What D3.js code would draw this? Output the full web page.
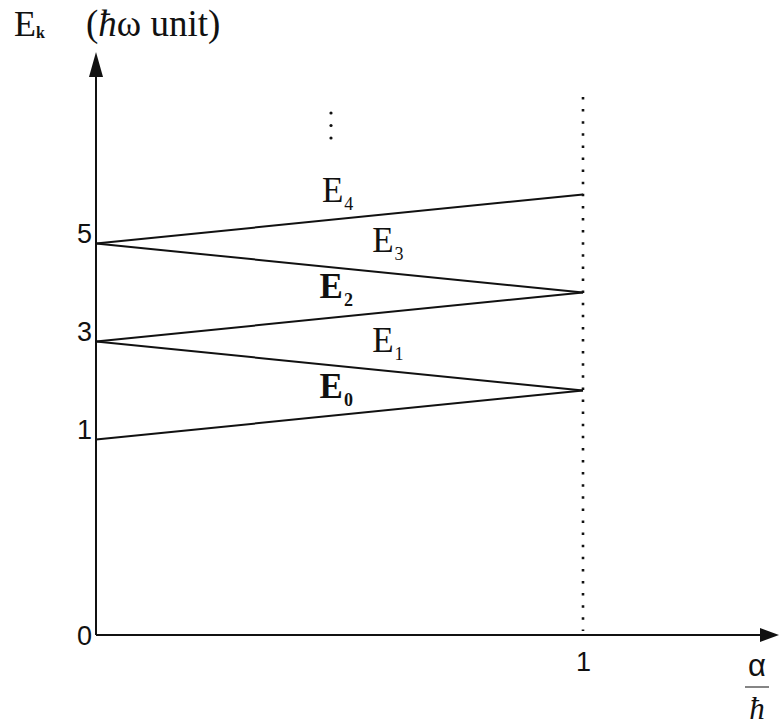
<!DOCTYPE html>
<html>
<head>
<meta charset="utf-8">
<script src="https://cdn.jsdelivr.net/npm/d3@7"></script>
<style>
  html, body { margin: 0; padding: 0; background: #fff; }
  svg { display: block; }
</style>
</head>
<body>
<svg id="chart" width="779" height="728"></svg>
<script>
// Energy levels E_k (in units of ħω) versus α/ħ, from α/ħ = 0 to 1
const levelNames = ["E0", "E1", "E2", "E3", "E4"];
const levelSub = ["0", "1", "2", "3", "4"];
const energyAtZero = [1, 3, 3, 5, 5];
const energyAtOne = [2, 2, 4, 4, 6];
const yTickValues = [0, 1, 3, 5];
const xTickValues = [1];

const svg = d3.select("#chart");

// Energy axis: broken between 0 and 1, linear from 1 upward
const x = d3.scaleLinear().domain([0, 1]).range([96, 583]);
const y = d3.scaleLinear().domain([0, 1, 5]).range([635, 439.5, 243.5]);

const serif = "'Liberation Serif', 'Times New Roman', serif";
const sans = "'Liberation Sans', Arial, sans-serif";

// Vertical dotted line at α/ħ = 1
svg.append("line")
  .attr("x1", x(1)).attr("x2", x(1))
  .attr("y1", 97).attr("y2", 631)
  .attr("stroke", "#111").attr("stroke-width", 2.6)
  .attr("stroke-dasharray", "2.5 9.6");

// Level lines
const levels = levelNames.map((n, i) => ({ name: n, sub: levelSub[i], e0: energyAtZero[i], e1: energyAtOne[i] }));
const line = d3.line().x(d => x(d[0])).y(d => y(d[1]));
svg.append("g").selectAll("path")
  .data(levels)
  .join("path")
  .attr("d", d => line([[0, d.e0], [1, d.e1]]))
  .attr("fill", "none")
  .attr("stroke", "#111")
  .attr("stroke-width", 2);

// Axes lines with arrow heads
const axisColor = "#111";
svg.append("line")
  .attr("x1", x(0)).attr("x2", x(0))
  .attr("y1", y(0)).attr("y2", 74)
  .attr("stroke", axisColor).attr("stroke-width", 2);
svg.append("path")
  .attr("d", `M${x(0)},52 L${x(0) - 7},77 L${x(0) + 7},77 Z`)
  .attr("fill", axisColor);
svg.append("line")
  .attr("x1", x(0)).attr("x2", 763)
  .attr("y1", y(0)).attr("y2", y(0))
  .attr("stroke", axisColor).attr("stroke-width", 2);
svg.append("path")
  .attr("d", `M779,${y(0)} L760,${y(0) - 7} L760,${y(0) + 7} Z`)
  .attr("fill", axisColor);

// Y tick labels (no tick marks)
const yAxis = d3.axisLeft(y).tickValues(yTickValues).tickSize(0).tickPadding(4).tickFormat(d3.format("d"));
const gy = svg.append("g").attr("transform", `translate(${x(0)},0)`).call(yAxis);
gy.select(".domain").remove();
gy.selectAll("text")
  .attr("font-family", sans).attr("font-size", 27).attr("fill", "#111")
  .attr("dy", d => d === 0 ? "0.36em" : "-0.02em");

// X tick labels
const xAxis = d3.axisBottom(x).tickValues(xTickValues).tickSize(0).tickPadding(17).tickFormat(d3.format("d"));
const gx = svg.append("g").attr("transform", `translate(0,${y(0)})`).call(xAxis);
gx.select(".domain").remove();
gx.selectAll("text")
  .attr("font-family", sans).attr("font-size", 27).attr("fill", "#111");

// Level labels E_k placed between the lines
const labelAt = {
  E4: [0.464, 5.84, false],
  E3: [0.567, 4.82, false],
  E2: [0.459, 3.88, true],
  E1: [0.567, 2.78, false],
  E0: [0.459, 1.84, true]
};
const lab = svg.append("g").selectAll("text")
  .data(levels)
  .join("text")
  .attr("x", d => x(labelAt[d.name][0]))
  .attr("y", d => y(labelAt[d.name][1]))
  .attr("font-family", serif)
  .attr("font-size", 35)
  .attr("font-weight", d => labelAt[d.name][2] ? "bold" : "normal")
  .attr("fill", "#111");
lab.append("tspan").text("E");
lab.append("tspan").attr("dx", 1).attr("dy", 8).attr("font-size", 18).text(d => d.sub);

// More levels above: vertical ellipsis
svg.append("g").selectAll("circle")
  .data([0, 1, 2])
  .join("circle")
  .attr("cx", 331)
  .attr("cy", d => 113 + d * 12.5)
  .attr("r", 1.6)
  .attr("fill", "#111");

// Y axis title: E_k (ħω unit)
const yt = svg.append("text")
  .attr("x", 14).attr("y", 36)
  .attr("font-family", serif).attr("font-size", 36).attr("fill", "#111");
yt.append("tspan").text("E");
yt.append("tspan").attr("dy", 2).attr("font-size", 16).attr("font-weight", "bold").text("k");
svg.append("text")
  .attr("x", 86).attr("y", 36)
  .attr("font-family", serif).attr("font-size", 37).attr("fill", "#111")
  .call(t => {
    t.append("tspan").text("(");
    t.append("tspan").attr("font-style", "italic").text("ħ");
    t.append("tspan").text("ω unit)");
  });

// X axis title: α / ħ
svg.append("text")
  .attr("x", 757).attr("y", 676)
  .attr("text-anchor", "middle")
  .attr("font-family", sans).attr("font-size", 31).attr("fill", "#111")
  .text("α");
svg.append("line")
  .attr("x1", 745).attr("x2", 769)
  .attr("y1", 687).attr("y2", 687)
  .attr("stroke", "#333").attr("stroke-width", 1.2);
svg.append("text")
  .attr("x", 757).attr("y", 719)
  .attr("text-anchor", "middle")
  .attr("font-family", serif).attr("font-style", "italic").attr("font-size", 31).attr("fill", "#111")
  .text("ħ");
</script>
</body>
</html>
